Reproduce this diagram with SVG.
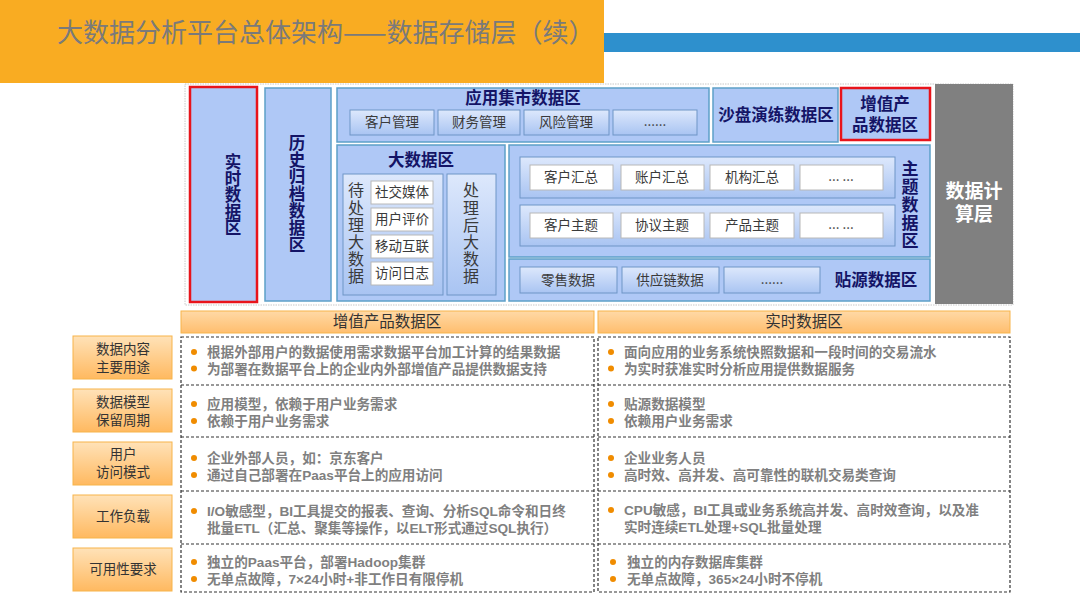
<svg xmlns="http://www.w3.org/2000/svg" width="1080" height="608" viewBox="0 0 1080 608">
<defs>
<linearGradient id="btn" x1="0" y1="0" x2="0" y2="1"><stop offset="0" stop-color="#DDE8FC"/><stop offset="1" stop-color="#A9C4F2"/></linearGradient>
<linearGradient id="org" x1="0" y1="0" x2="0" y2="1"><stop offset="0" stop-color="#FFE2B8"/><stop offset="1" stop-color="#FFB960"/></linearGradient>
<linearGradient id="orgh" x1="0" y1="0" x2="0" y2="1"><stop offset="0" stop-color="#FFD9A6"/><stop offset="1" stop-color="#FFBE6E"/></linearGradient>
</defs>
<style>
text{font-family:"Noto Sans CJK SC","Liberation Sans",sans-serif}
.lib{font-family:"Liberation Sans","Noto Sans CJK SC",sans-serif}
.zone{fill:#AFC8F6;stroke:#5DA0C8;stroke-width:1.5}
.btn{fill:url(#btn);stroke:#6F95C6;stroke-width:1}
.wb{fill:#FFFFFF;stroke:#B8B8B8;stroke-width:1}
.red{fill:#AFC8F6;stroke:#E8141B;stroke-width:2.5}
.zt{fill:#141466;font-weight:bold;font-size:16.5px;text-anchor:middle}
.vz{fill:#141466;font-weight:bold;font-size:16.5px;text-anchor:middle;writing-mode:vertical-rl}
.bt{fill:#3A3A3A;font-size:13.5px;text-anchor:middle}
.vt{fill:#3A3A3A;font-size:16px;text-anchor:middle;writing-mode:vertical-rl;letter-spacing:1.2px}
.hd{fill:url(#orgh);stroke:#F7B44A;stroke-width:1}
.rl{fill:url(#org);stroke:#F7B44A;stroke-width:1}
.ht{fill:#333333;font-size:15.5px;text-anchor:middle}
.lt{fill:#333333;font-size:13.5px;text-anchor:middle;font-family:"Liberation Sans","Noto Sans CJK SC",sans-serif}
.dash{fill:none;stroke:#333333;stroke-width:1.2;stroke-dasharray:3,2}
.ct{fill:#808080;font-size:13.6px;font-weight:bold;font-family:"Liberation Sans","Noto Sans CJK SC",sans-serif}
.dot{fill:#F08C00}
</style>

<g id="header">
<rect x="0" y="0" width="604" height="83" fill="#F9AC22"/>
<rect x="604" y="33" width="476" height="19" fill="#2E90CD"/>
<text x="57" y="42" font-size="26" fill="#7A7A7A">大数据分析平台总体架构——数据存储层（续）</text>
</g>

<g id="arch-frame">
<rect x="185" y="84" width="828" height="221" fill="#FFFFFF" stroke="#C8C8C8" stroke-width="1" stroke-dasharray="1.5,1"/>
</g>

<g id="compute">
<rect x="935" y="84" width="78" height="220" fill="#808080"/>
<text class="lib" x="974" y="198" font-size="19" font-weight="bold" fill="#FFFFFF" text-anchor="middle">数据计<tspan x="974" dy="23">算层</tspan></text>
</g>

<g id="realtime">
<rect x="190" y="87" width="67" height="215" class="red"/>
<text class="vz" x="233" y="195">实时数据区</text>
</g>

<g id="history">
<rect x="265" y="88" width="66" height="213" class="zone"/>
<text class="vz" x="297" y="194" style="letter-spacing:0.6px">历史归档数据区</text>
</g>

<g id="app-mart">
<rect x="337" y="88" width="372" height="54" class="zone"/>
<text class="zt" x="523" y="104">应用集市数据区</text>
<rect x="350" y="110" width="84" height="25" class="btn"/><text class="bt" x="392" y="127">客户管理</text>
<rect x="438" y="110" width="82" height="25" class="btn"/><text class="bt" x="479" y="127">财务管理</text>
<rect x="524" y="110" width="85" height="25" class="btn"/><text class="bt" x="566" y="127">风险管理</text>
<rect x="613" y="110" width="84" height="25" class="btn"/><text class="bt" x="655" y="126" font-size="10">......</text>
</g>

<g id="sandbox">
<rect x="713" y="88" width="125" height="54" class="zone"/>
<text class="zt" x="776" y="121">沙盘演练数据区</text>
</g>

<g id="value-add">
<rect x="841" y="88" width="89" height="52" class="red"/>
<text class="zt lib" x="885" y="110">增值产<tspan x="885" dy="21">品数据区</tspan></text>
</g>

<g id="bigdata">
<rect x="337" y="145" width="168" height="156" class="zone"/>
<text class="zt" x="421" y="166">大数据区</text>
<rect x="343" y="174" width="100" height="121" class="btn"/>
<text class="vt" x="356" y="234">待处理大数据</text>
<rect x="371" y="181" width="62" height="23" class="wb"/><text class="bt" x="402" y="197" font-size="14">社交媒体</text>
<rect x="371" y="208" width="62" height="23" class="wb"/><text class="bt" x="402" y="224" font-size="14">用户评价</text>
<rect x="371" y="235" width="62" height="23" class="wb"/><text class="bt" x="402" y="251" font-size="14">移动互联</text>
<rect x="371" y="262" width="62" height="23" class="wb"/><text class="bt" x="402" y="278" font-size="14">访问日志</text>
<rect x="447" y="174" width="49" height="121" class="btn"/>
<text class="vt" x="471" y="234">处理后大数据</text>
</g>

<g id="subject">
<rect x="509" y="145" width="421" height="112" class="zone"/>
<rect x="520" y="157" width="375" height="41" class="btn"/>
<rect x="520" y="205" width="375" height="41" class="btn"/>
<rect x="530" y="165" width="83" height="25" class="wb"/><text class="bt" x="571" y="182">客户汇总</text>
<rect x="621" y="165" width="83" height="25" class="wb"/><text class="bt" x="662" y="182">账户汇总</text>
<rect x="710" y="165" width="84" height="25" class="wb"/><text class="bt" x="752" y="182">机构汇总</text>
<rect x="800" y="165" width="83" height="25" class="wb"/><text class="bt" x="841" y="181" font-size="10">... ...</text>
<rect x="530" y="213" width="83" height="25" class="wb"/><text class="bt" x="571" y="230">客户主题</text>
<rect x="621" y="213" width="83" height="25" class="wb"/><text class="bt" x="662" y="230">协议主题</text>
<rect x="710" y="213" width="84" height="25" class="wb"/><text class="bt" x="752" y="230">产品主题</text>
<rect x="800" y="213" width="83" height="25" class="wb"/><text class="bt" x="841" y="229" font-size="10">... ...</text>
<text class="vz" x="910" y="205" style="font-size:17px;letter-spacing:1px">主题数据区</text>
</g>

<g id="source">
<rect x="509" y="259" width="421" height="42" class="zone"/>
<rect x="520" y="267" width="97" height="26" class="btn"/><text class="bt" x="568" y="285">零售数据</text>
<rect x="622" y="267" width="97" height="26" class="btn"/><text class="bt" x="670" y="285">供应链数据</text>
<rect x="724" y="267" width="96" height="26" class="btn"/><text class="bt" x="772" y="284" font-size="10">......</text>
<text class="zt" x="876" y="286">贴源数据区</text>
</g>

<g id="col-headers">
<rect x="181" y="311" width="413" height="22" class="hd"/><text class="ht" x="387" y="327">增值产品数据区</text>
<rect x="598" y="311" width="412" height="22" class="hd"/><text class="ht" x="804" y="327">实时数据区</text>
</g>

<g id="row-labels">
<rect x="73" y="336" width="99" height="43" class="rl"/><text class="lt" x="123" y="354">数据内容<tspan x="123" dy="18">主要用途</tspan></text>
<rect x="73" y="389" width="99" height="43" class="rl"/><text class="lt" x="123" y="407">数据模型<tspan x="123" dy="18">保留周期</tspan></text>
<rect x="73" y="442" width="99" height="43" class="rl"/><text class="lt" x="123" y="459">用户<tspan x="123" dy="18">访问模式</tspan></text>
<rect x="73" y="495" width="99" height="43" class="rl"/><text class="lt" x="123" y="521">工作负载</text>
<rect x="73" y="548" width="99" height="43" class="rl"/><text class="lt" x="123" y="574">可用性要求</text>
</g>

<g id="left-table">
<rect x="181" y="337" width="413" height="255" class="dash"/>
<line x1="181" y1="385" x2="594" y2="385" class="dash"/>
<line x1="181" y1="437" x2="594" y2="437" class="dash"/>
<line x1="181" y1="491" x2="594" y2="491" class="dash"/>
<line x1="181" y1="544" x2="594" y2="544" class="dash"/>
<circle class="dot" cx="194" cy="352" r="3"/><circle class="dot" cx="194" cy="368.5" r="3"/>
<text class="ct" x="207" y="357">根据外部用户的数据使用需求数据平台加工计算的结果数据<tspan x="207" dy="16.5">为部署在数据平台上的企业内外部增值产品提供数据支持</tspan></text>
<circle class="dot" cx="194" cy="404" r="3"/><circle class="dot" cx="194" cy="421" r="3"/>
<text class="ct" x="207" y="409">应用模型，依赖于用户业务需求<tspan x="207" dy="17">依赖于用户业务需求</tspan></text>
<circle class="dot" cx="194" cy="458" r="3"/><circle class="dot" cx="194" cy="475" r="3"/>
<text class="ct" x="207" y="463">企业外部人员，如：京东客户<tspan x="207" dy="17">通过自己部署在Paas平台上的应用访问</tspan></text>
<circle class="dot" cx="194" cy="511" r="3"/>
<text class="ct" x="207" y="516">I/O敏感型，BI工具提交的报表、查询、分析SQL命令和日终<tspan x="207" dy="17">批量ETL（汇总、聚集等操作，以ELT形式通过SQL执行）</tspan></text>
<circle class="dot" cx="194" cy="562" r="3"/><circle class="dot" cx="194" cy="579" r="3"/>
<text class="ct" x="207" y="567">独立的Paas平台，部署Hadoop集群<tspan x="207" dy="17">无单点故障，7×24小时+非工作日有限停机</tspan></text>
</g>

<g id="right-table">
<rect x="598" y="337" width="412" height="255" class="dash"/>
<line x1="598" y1="385" x2="1010" y2="385" class="dash"/>
<line x1="598" y1="437" x2="1010" y2="437" class="dash"/>
<line x1="598" y1="491" x2="1010" y2="491" class="dash"/>
<line x1="598" y1="544" x2="1010" y2="544" class="dash"/>
<circle class="dot" cx="611" cy="352" r="3"/><circle class="dot" cx="611" cy="368.5" r="3"/>
<text class="ct" x="624" y="357">面向应用的业务系统快照数据和一段时间的交易流水<tspan x="624" dy="16.5">为实时获准实时分析应用提供数据服务</tspan></text>
<circle class="dot" cx="611" cy="404" r="3"/><circle class="dot" cx="611" cy="421" r="3"/>
<text class="ct" x="624" y="409">贴源数据模型<tspan x="624" dy="17">依赖用户业务需求</tspan></text>
<circle class="dot" cx="611" cy="458" r="3"/><circle class="dot" cx="611" cy="475" r="3"/>
<text class="ct" x="624" y="463">企业业务人员<tspan x="624" dy="17">高时效、高并发、高可靠性的联机交易类查询</tspan></text>
<circle class="dot" cx="611" cy="510" r="3"/>
<text class="ct" x="624" y="515">CPU敏感，BI工具或业务系统高并发、高时效查询，以及准<tspan x="624" dy="17">实时连续ETL处理+SQL批量处理</tspan></text>
<circle class="dot" cx="613" cy="562" r="3"/><circle class="dot" cx="613" cy="579" r="3"/>
<text class="ct" x="627" y="567">独立的内存数据库集群<tspan x="627" dy="17">无单点故障，365×24小时不停机</tspan></text>
</g>
</svg>
